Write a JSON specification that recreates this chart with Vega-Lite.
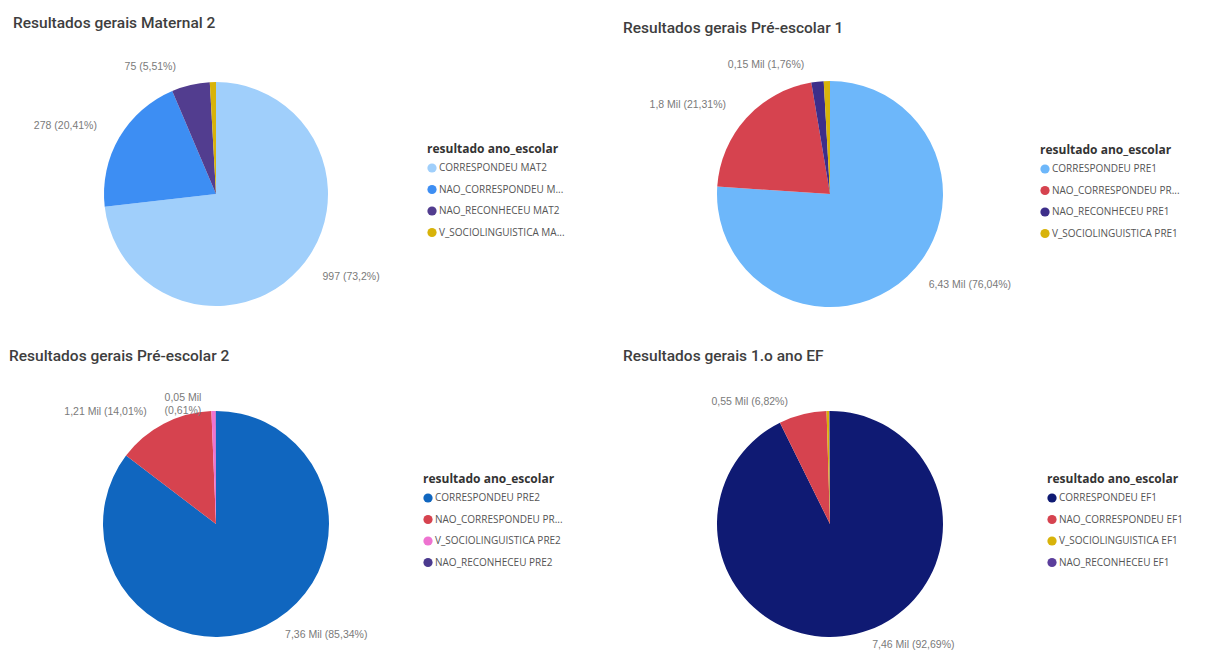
{
  "$schema": "https://vega.github.io/schema/vega-lite/v6.json",
  "background": "white",
  "padding": {"left": 9, "top": 15, "right": 0, "bottom": 0},
  "datasets": {
    "dados": [
      {"painel": "MAT2", "categoria": "CORRESPONDEU MAT2", "valor": 997, "ordem": 1, "rotulo": "997 (73,2%)"},
      {"painel": "MAT2", "categoria": "NAO_CORRESPONDEU MAT2", "valor": 278, "ordem": 2, "rotulo": "278 (20,41%)"},
      {"painel": "MAT2", "categoria": "NAO_RECONHECEU MAT2", "valor": 75, "ordem": 3, "rotulo": "75 (5,51%)"},
      {"painel": "MAT2", "categoria": "V_SOCIOLINGUISTICA MAT2", "valor": 12, "ordem": 4, "rotulo": ""},
      {"painel": "PRE1", "categoria": "CORRESPONDEU PRE1", "valor": 6430, "ordem": 1, "rotulo": "6,43 Mil (76,04%)"},
      {"painel": "PRE1", "categoria": "NAO_CORRESPONDEU PRE1", "valor": 1802, "ordem": 2, "rotulo": "1,8 Mil (21,31%)"},
      {"painel": "PRE1", "categoria": "NAO_RECONHECEU PRE1", "valor": 149, "ordem": 3, "rotulo": "0,15 Mil (1,76%)"},
      {"painel": "PRE1", "categoria": "V_SOCIOLINGUISTICA PRE1", "valor": 75, "ordem": 4, "rotulo": ""},
      {"painel": "PRE2", "categoria": "CORRESPONDEU PRE2", "valor": 7360, "ordem": 1, "rotulo": "7,36 Mil (85,34%)"},
      {"painel": "PRE2", "categoria": "NAO_CORRESPONDEU PRE2", "valor": 1208, "ordem": 2, "rotulo": "1,21 Mil (14,01%)"},
      {"painel": "PRE2", "categoria": "V_SOCIOLINGUISTICA PRE2", "valor": 53, "ordem": 3, "rotulo": "0,05 Mil\n(0,61%)"},
      {"painel": "PRE2", "categoria": "NAO_RECONHECEU PRE2", "valor": 3, "ordem": 4, "rotulo": ""},
      {"painel": "EF1", "categoria": "CORRESPONDEU EF1", "valor": 7460, "ordem": 1, "rotulo": "7,46 Mil (92,69%)"},
      {"painel": "EF1", "categoria": "NAO_CORRESPONDEU EF1", "valor": 549, "ordem": 2, "rotulo": "0,55 Mil (6,82%)"},
      {"painel": "EF1", "categoria": "V_SOCIOLINGUISTICA EF1", "valor": 30, "ordem": 3, "rotulo": ""},
      {"painel": "EF1", "categoria": "NAO_RECONHECEU EF1", "valor": 9, "ordem": 4, "rotulo": ""}
    ]
  },
  "data": {"name": "dados"},
  "columns": 2,
  "spacing": {"column": 200, "row": 90},
  "bounds": "flush",
  "resolve": {
    "scale": {"color": "independent", "theta": "independent"},
    "legend": {"color": "independent"}
  },
  "concat": [
    {
      "title": {"text": "Resultados gerais Maternal 2", "dx": 4},
      "width": 414,
      "height": 240,
      "transform": [{"filter": "datum.painel == 'MAT2'"}],
      "layer": [
        {
          "mark": {"type": "arc", "outerRadius": 112},
          "encoding": {
            "theta": {"field": "valor", "type": "quantitative", "stack": true},
            "order": {"field": "ordem", "type": "quantitative"},
            "color": {
              "field": "categoria", "type": "nominal",
              "scale": {
                "domain": ["CORRESPONDEU MAT2", "NAO_CORRESPONDEU MAT2", "NAO_RECONHECEU MAT2", "V_SOCIOLINGUISTICA MAT2"],
                "range": ["#A0CFFB", "#3D8EF3", "#523D8F", "#D8B30A"]
              },
              "legend": {
                "orient": "none", "legendX": 418, "legendY": 70,
                "title": "resultado ano_escolar",
                "labelExpr": "replace(replace(datum.label, 'NAO_CORRESPONDEU MAT2', 'NAO_CORRESPONDEU M...'), 'V_SOCIOLINGUISTICA MAT2', 'V_SOCIOLINGUISTICA MA...')"
              }
            }
          }
        },
        {
          "mark": {"type": "text", "radius": 124, "align": "left", "dx": 14},
          "encoding": {
            "theta": {"field": "valor", "type": "quantitative", "stack": true},
            "order": {"field": "ordem", "type": "quantitative"},
            "text": {"field": "rotulo", "type": "nominal", "condition": {"test": "datum.ordem != 1", "value": ""}}
          }
        },
        {
          "mark": {"type": "text", "radius": 124, "align": "right", "dx": -12, "dy": -6},
          "encoding": {
            "theta": {"field": "valor", "type": "quantitative", "stack": true},
            "order": {"field": "ordem", "type": "quantitative"},
            "text": {"field": "rotulo", "type": "nominal", "condition": {"test": "datum.ordem == 1", "value": ""}}
          }
        }
      ]
    },
    {
      "title": {"text": "Resultados gerais Pré-escolar 1", "dy": 5},
      "width": 414,
      "height": 240,
      "transform": [{"filter": "datum.painel == 'PRE1'"}],
      "layer": [
        {
          "mark": {"type": "arc", "outerRadius": 113},
          "encoding": {
            "theta": {"field": "valor", "type": "quantitative", "stack": true},
            "order": {"field": "ordem", "type": "quantitative"},
            "color": {
              "field": "categoria", "type": "nominal",
              "scale": {
                "domain": ["CORRESPONDEU PRE1", "NAO_CORRESPONDEU PRE1", "NAO_RECONHECEU PRE1", "V_SOCIOLINGUISTICA PRE1"],
                "range": ["#6DB7FA", "#D6434F", "#3D2E8A", "#D8B30A"]
              },
              "legend": {
                "orient": "none", "legendX": 417, "legendY": 71,
                "title": "resultado ano_escolar",
                "labelExpr": "replace(datum.label, 'NAO_CORRESPONDEU PRE1', 'NAO_CORRESPONDEU PR...')"
              }
            }
          }
        },
        {
          "mark": {"type": "text", "radius": 124, "align": "left", "dx": 14},
          "encoding": {
            "theta": {"field": "valor", "type": "quantitative", "stack": true},
            "order": {"field": "ordem", "type": "quantitative"},
            "text": {"field": "rotulo", "type": "nominal", "condition": {"test": "datum.ordem != 1", "value": ""}}
          }
        },
        {
          "mark": {"type": "text", "radius": 124, "align": "right", "dx": -12, "dy": -6},
          "encoding": {
            "theta": {"field": "valor", "type": "quantitative", "stack": true},
            "order": {"field": "ordem", "type": "quantitative"},
            "text": {"field": "rotulo", "type": "nominal", "condition": {"test": "datum.ordem == 1", "value": ""}}
          }
        }
      ]
    },
    {
      "title": {"text": "Resultados gerais Pré-escolar 2", "dy": -1},
      "width": 414,
      "height": 240,
      "transform": [{"filter": "datum.painel == 'PRE2'"}],
      "layer": [
        {
          "mark": {"type": "arc", "outerRadius": 113},
          "encoding": {
            "theta": {"field": "valor", "type": "quantitative", "stack": true},
            "order": {"field": "ordem", "type": "quantitative"},
            "color": {
              "field": "categoria", "type": "nominal",
              "scale": {
                "domain": ["CORRESPONDEU PRE2", "NAO_CORRESPONDEU PRE2", "V_SOCIOLINGUISTICA PRE2", "NAO_RECONHECEU PRE2"],
                "range": ["#1066BF", "#D6434F", "#EE73D0", "#4B3A8E"]
              },
              "legend": {
                "orient": "none", "legendX": 414, "legendY": 70,
                "title": "resultado ano_escolar",
                "labelExpr": "replace(datum.label, 'NAO_CORRESPONDEU PRE2', 'NAO_CORRESPONDEU PR...')"
              }
            }
          }
        },
        {
          "mark": {"type": "text", "radius": 124, "align": "left", "dx": 14},
          "encoding": {
            "theta": {"field": "valor", "type": "quantitative", "stack": true},
            "order": {"field": "ordem", "type": "quantitative"},
            "text": {"field": "rotulo", "type": "nominal", "condition": {"test": "datum.ordem != 1", "value": ""}}
          }
        },
        {
          "mark": {"type": "text", "radius": 124, "align": "right", "dx": -12, "dy": -2, "lineBreak": "\n"},
          "encoding": {
            "theta": {"field": "valor", "type": "quantitative", "stack": true},
            "order": {"field": "ordem", "type": "quantitative"},
            "text": {"field": "rotulo", "type": "nominal", "condition": {"test": "datum.ordem == 1", "value": ""}}
          }
        }
      ]
    },
    {
      "title": {"text": "Resultados gerais 1.o ano EF", "dy": -1},
      "width": 414,
      "height": 240,
      "transform": [{"filter": "datum.painel == 'EF1'"}],
      "layer": [
        {
          "mark": {"type": "arc", "outerRadius": 113},
          "encoding": {
            "theta": {"field": "valor", "type": "quantitative", "stack": true},
            "order": {"field": "ordem", "type": "quantitative"},
            "color": {
              "field": "categoria", "type": "nominal",
              "scale": {
                "domain": ["CORRESPONDEU EF1", "NAO_CORRESPONDEU EF1", "V_SOCIOLINGUISTICA EF1", "NAO_RECONHECEU EF1"],
                "range": ["#0F1A73", "#D6434F", "#D8B30A", "#5B3E9C"]
              },
              "legend": {
                "orient": "none", "legendX": 424, "legendY": 70,
                "title": "resultado ano_escolar"
              }
            }
          }
        },
        {
          "mark": {"type": "text", "radius": 124, "align": "left", "dx": 14},
          "encoding": {
            "theta": {"field": "valor", "type": "quantitative", "stack": true},
            "order": {"field": "ordem", "type": "quantitative"},
            "text": {"field": "rotulo", "type": "nominal", "condition": {"test": "datum.ordem != 1", "value": ""}}
          }
        },
        {
          "mark": {"type": "text", "radius": 124, "align": "right", "dx": -12, "dy": -2},
          "encoding": {
            "theta": {"field": "valor", "type": "quantitative", "stack": true},
            "order": {"field": "ordem", "type": "quantitative"},
            "text": {"field": "rotulo", "type": "nominal", "condition": {"test": "datum.ordem == 1", "value": ""}}
          }
        }
      ]
    }
  ],
  "config": {
    "view": {"stroke": null},
    "title": {"anchor": "start", "frame": "group", "font": "Roboto", "fontSize": 15.5, "fontWeight": 500, "color": "#3E3E3E", "offset": 28},
    "text": {"font": "Liberation Sans", "fontSize": 10.5, "color": "#7A7A7A", "baseline": "middle"},
    "legend": {
      "titleFont": "Open Sans", "titleFontSize": 12, "titleFontWeight": "bold", "titleColor": "#333333",
      "labelFont": "Open Sans", "labelFontSize": 10, "labelColor": "#555555",
      "symbolType": "circle", "symbolSize": 85, "symbolStrokeWidth": 0,
      "rowPadding": 11.5, "titlePadding": 7, "labelOffset": 2, "labelLimit": 300
    }
  }
}
